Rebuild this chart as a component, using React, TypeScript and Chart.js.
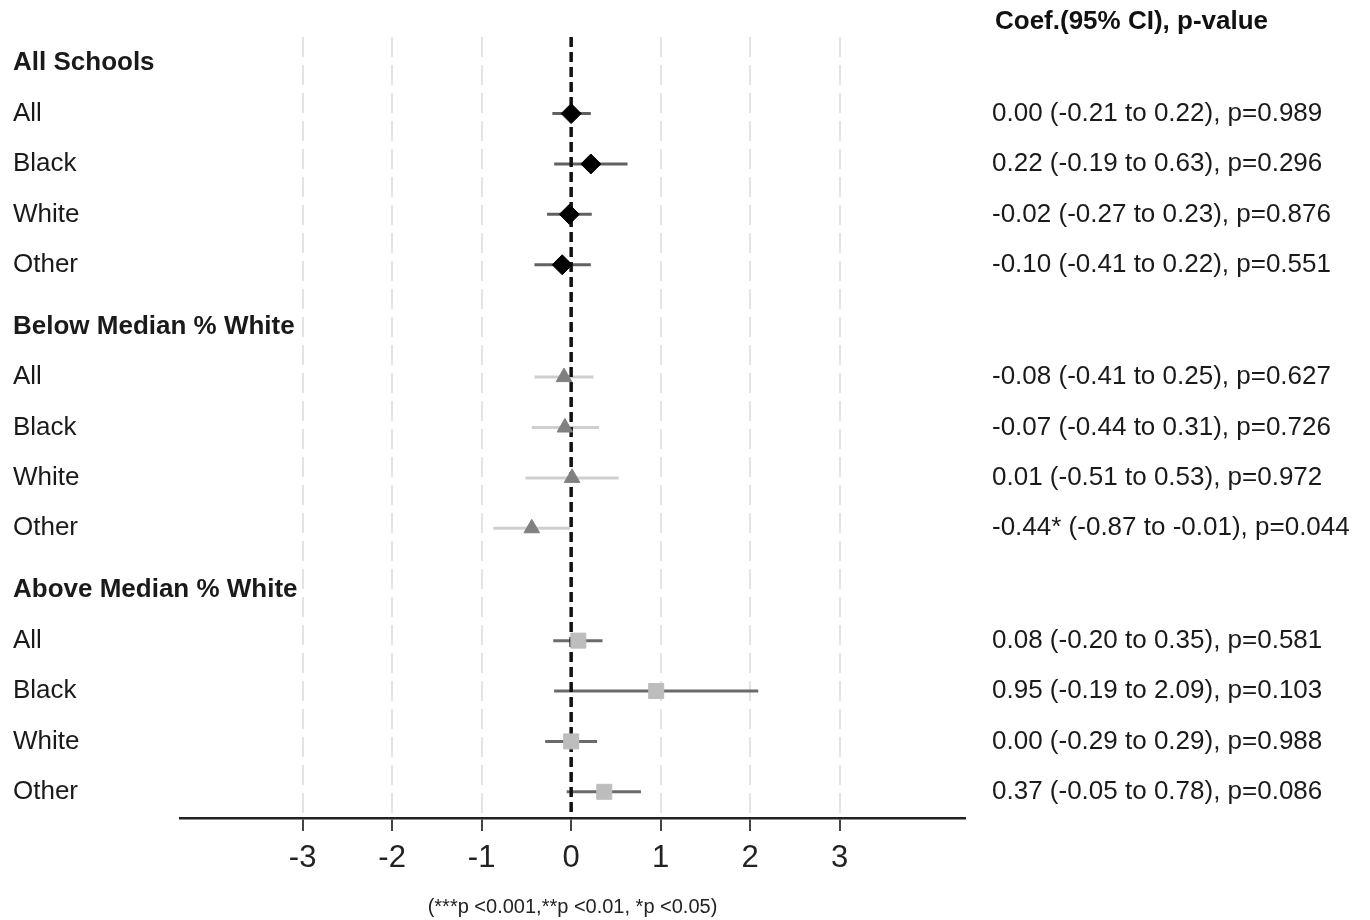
import React, { useEffect, useRef } from 'react';
import { Chart, registerables } from 'chart.js';

Chart.register(...registerables);

// ---------------- data ----------------
const groupNames = ['All Schools', 'Below Median % White', 'Above Median % White'];
const subgroups = ['All', 'Black', 'White', 'Other'];

const coefAllSchools = [0.0, 0.22, -0.02, -0.1];
const lowerAllSchools = [-0.21, -0.19, -0.27, -0.41];
const upperAllSchools = [0.22, 0.63, 0.23, 0.22];
const pAllSchools = ['0.989', '0.296', '0.876', '0.551'];

const coefBelow = [-0.08, -0.07, 0.01, -0.44];
const lowerBelow = [-0.41, -0.44, -0.51, -0.87];
const upperBelow = [0.25, 0.31, 0.53, -0.01];
const pBelow = ['0.627', '0.726', '0.972', '0.044'];

const coefAbove = [0.08, 0.95, 0.0, 0.37];
const lowerAbove = [-0.2, -0.19, -0.29, -0.05];
const upperAbove = [0.35, 2.09, 0.29, 0.78];
const pAbove = ['0.581', '0.103', '0.988', '0.086'];

const xTickValues = [-3, -2, -1, 0, 1, 2, 3];
const valueHeader = 'Coef.(95% CI), p-value';
const footnote = '(***p <0.001,**p <0.01, *p <0.05)';

// ---------------- layout / style ----------------
const FONT = "'Liberation Sans', Arial, Helvetica, sans-serif";
const GROUP_GAP = 1.23;
const Y_MIN = -0.52;
const Y_MAX = 14.98;
const X_MIN = -4.37;
const X_MAX = 4.4;
const LEFT_AXIS_WIDTH = 167;

const groupCoefs = [coefAllSchools, coefBelow, coefAbove];
const groupLowers = [lowerAllSchools, lowerBelow, lowerAbove];
const groupUppers = [upperAllSchools, upperBelow, upperAbove];
const groupPs = [pAllSchools, pBelow, pAbove];

const markerStyles = ['rectRot', 'triangle', 'rect'];
const markerRadius = [10, 9, 10.6];
const markerColors = ['#000000', '#808080', '#bdbdbd'];
const ciColors = ['#616161', '#cfcfcf', '#6a6a6a'];

type Row = { pos: number; label: string; isHeader: boolean; valueText: string };

const fmt = (v: number) => (Math.abs(v) < 0.005 ? '0.00' : v.toFixed(2));
const stars = (p: string) => {
  const n = parseFloat(p);
  if (n < 0.001) return '***';
  if (n < 0.01) return '**';
  if (n < 0.05) return '*';
  return '';
};

const rows: Row[] = [];
const groupPositions: number[][] = [];
groupNames.forEach((g, gi) => {
  const headerPos = gi * (subgroups.length + GROUP_GAP);
  rows.push({ pos: headerPos, label: g, isHeader: true, valueText: '' });
  const positions: number[] = [];
  subgroups.forEach((s, si) => {
    const pos = headerPos + si + 1;
    positions.push(pos);
    const c = groupCoefs[gi][si];
    const lo = groupLowers[gi][si];
    const hi = groupUppers[gi][si];
    const p = groupPs[gi][si];
    rows.push({
      pos,
      label: s,
      isHeader: false,
      valueText: `${fmt(c)}${stars(p)} (${fmt(lo)} to ${fmt(hi)}), p=${p}`,
    });
  });
  groupPositions.push(positions);
});

const headerPlugin = {
  id: 'valueHeader',
  afterDraw(chart: any) {
    const ctx = chart.ctx;
    ctx.save();
    ctx.font = `bold 26px ${FONT}`;
    ctx.fillStyle = '#111';
    ctx.textAlign = 'left';
    ctx.textBaseline = 'middle';
    ctx.fillText(valueHeader, chart.chartArea.right + 30, 22);
    ctx.restore();
  },
};

export default function App() {
  const canvasRef = useRef<HTMLCanvasElement | null>(null);

  useEffect(() => {
    if (!canvasRef.current) return;

    const ciDatasets: any[] = [];
    groupNames.forEach((_, gi) => {
      subgroups.forEach((__, si) => {
        ciDatasets.push({
          type: 'line',
          data: [
            { x: groupLowers[gi][si], y: groupPositions[gi][si] },
            { x: groupUppers[gi][si], y: groupPositions[gi][si] },
          ],
          borderColor: ciColors[gi],
          borderWidth: 3,
          pointRadius: 0,
          borderCapStyle: 'butt',
          order: 3,
        });
      });
    });

    const zeroLine = {
      type: 'line',
      data: [
        { x: 0, y: Y_MIN },
        { x: 0, y: Y_MAX },
      ],
      borderColor: '#111111',
      borderWidth: 3.5,
      borderDash: [10, 5],
      pointRadius: 0,
      order: 2,
    };

    const markerDatasets = groupNames.map((g, gi) => ({
      type: 'scatter',
      label: g,
      data: groupCoefs[gi].map((c, si) => ({ x: c, y: groupPositions[gi][si] })),
      pointStyle: markerStyles[gi],
      pointRadius: markerRadius[gi],
      backgroundColor: markerColors[gi],
      borderColor: markerColors[gi],
      borderWidth: 1,
      order: 1,
    }));

    const chart = new Chart(canvasRef.current, {
      type: 'scatter',
      data: { datasets: [...ciDatasets, zeroLine, ...markerDatasets] as any },
      options: {
        animation: false,
        responsive: true,
        maintainAspectRatio: false,
        layout: { padding: { left: 13, top: 37, right: 0, bottom: 0 } },
        plugins: { legend: { display: false }, tooltip: { enabled: false } },
        scales: {
          x: {
            type: 'linear',
            min: X_MIN,
            max: X_MAX,
            afterBuildTicks: (s: any) => {
              s.ticks = xTickValues.map((v) => ({ value: v }));
            },
            afterFit: (s: any) => {
              s.height = 102;
            },
            grid: {
              color: (c: any) => (c.tick && c.tick.value === 0 ? 'rgba(0,0,0,0)' : '#e4e4e4'),
              lineWidth: 2,
              drawTicks: true,
              tickLength: 13,
              tickWidth: 2,
              tickColor: '#444',
            },
            border: { display: true, color: '#222', width: 2.5, dash: [20, 8] },
            ticks: {
              font: { size: 31, family: FONT },
              color: '#222',
              padding: 9,
              autoSkip: false,
              maxRotation: 0,
              callback: (v: any) => String(v),
            },
            title: {
              display: true,
              text: footnote,
              font: { size: 20, family: FONT },
              color: '#222',
              padding: { top: 1, bottom: 1 },
            },
          },
          y: {
            type: 'linear',
            position: 'left',
            min: Y_MIN,
            max: Y_MAX,
            reverse: true,
            afterBuildTicks: (s: any) => {
              s.ticks = rows.map((r) => ({ value: r.pos }));
            },
            afterFit: (s: any) => {
              s.width = LEFT_AXIS_WIDTH;
              s.paddingTop = 0;
              s.paddingBottom = 0;
            },
            grid: { display: false, drawTicks: false },
            border: { display: false },
            ticks: {
              autoSkip: false,
              mirror: true,
              crossAlign: 'near',
              padding: -LEFT_AXIS_WIDTH,
              color: '#1a1a1a',
              font: (c: any) => {
                const r = rows[c.index];
                const h = r && r.isHeader;
                return { family: FONT, size: h ? 26 : 26, weight: h ? 'bold' : 'normal' };
              },
              callback: (_v: any, i: number) => (rows[i] ? rows[i].label : ''),
            },
          },
          y2: {
            type: 'linear',
            position: 'right',
            min: Y_MIN,
            max: Y_MAX,
            reverse: true,
            afterBuildTicks: (s: any) => {
              s.ticks = rows.map((r) => ({ value: r.pos }));
            },
            afterFit: (s: any) => {
              s.width = 405;
              s.paddingTop = 0;
              s.paddingBottom = 0;
            },
            grid: { display: false, drawTicks: false },
            border: { display: false },
            ticks: {
              autoSkip: false,
              crossAlign: 'near',
              padding: 27,
              color: '#1a1a1a',
              font: { family: FONT, size: 26 },
              callback: (_v: any, i: number) => (rows[i] ? rows[i].valueText : ''),
            },
          },
        },
      } as any,
      plugins: [headerPlugin],
    });

    return () => chart.destroy();
  }, []);

  return (
    <div style={{ position: 'fixed', left: 0, top: 0, width: 1370, height: 920, background: '#fff' }}>
      <canvas ref={canvasRef} />
    </div>
  );
}
